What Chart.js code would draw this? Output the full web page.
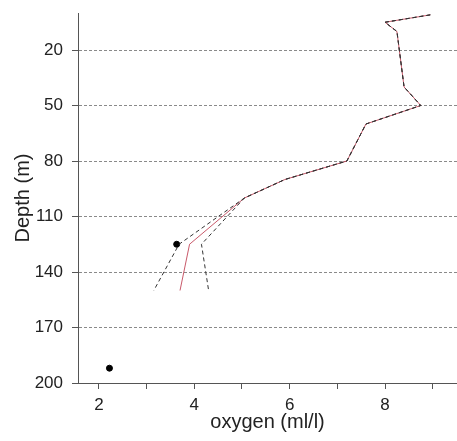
<!DOCTYPE html>
<html>
<head>
<meta charset="utf-8">
<script src="https://cdn.jsdelivr.net/npm/chart.js@4"></script>
<style>
  body { margin: 0; background: #fff; }
  #wrap { width: 457px; height: 441px; }
</style>
</head>
<body>
<div id="wrap"><canvas id="profile" width="457" height="441"></canvas></div>
<script>
// depth profile
var depths = [1, 5, 10, 40, 50, 60, 80, 90, 100, 125, 150];
var oxyMean = [8.95, 8.0, 8.25, 8.4, 8.75, 7.6, 7.2, 5.9, 5.05, 3.9, 3.7];
var oxyLow = [8.95, 8.0, 8.25, 8.4, 8.75, 7.6, 7.2, 5.9, 5.05, 3.68, 3.15];
var oxyHigh = [8.95, 8.0, 8.25, 8.4, 8.75, 7.6, 7.2, 5.9, 5.05, 4.15, 4.3];

// single observations (black dots)
var obsOxy = [3.63, 2.22];
var obsDepth = [125, 192];

var depthTicks = [20, 50, 80, 110, 140, 170, 200];
var oxyTicks = [2, 3, 4, 5, 6, 7, 8, 9];
var oxyLabels = [2, 4, 6, 8];

function pairs(xs, ys) {
  var out = [];
  for (var i = 0; i < xs.length; i++) out.push({ x: xs[i], y: ys[i] });
  return out;
}

var fontFam = "'Liberation Sans', Arial, sans-serif";

new Chart(document.getElementById('profile'), {
  type: 'scatter',
  data: {
    datasets: [
      {
        label: 'low',
        data: pairs(oxyLow, depths),
        showLine: true,
        borderColor: '#333',
        borderWidth: 1,
        borderDash: [4, 3],
        pointRadius: 0
      },
      {
        label: 'high',
        data: pairs(oxyHigh, depths),
        showLine: true,
        borderColor: '#333',
        borderWidth: 1,
        borderDash: [4, 3],
        pointRadius: 0
      },
      {
        label: 'mean',
        data: pairs(oxyMean, depths),
        showLine: true,
        borderColor: 'rgba(190, 60, 80, 0.85)',
        borderWidth: 1,
        pointRadius: 0
      },
      {
        label: 'obs',
        data: pairs(obsOxy, obsDepth),
        showLine: false,
        pointRadius: 3,
        pointBackgroundColor: '#000',
        pointBorderColor: '#000'
      }
    ]
  },
  options: {
    responsive: false,
    animation: false,
    layout: { autoPadding: false, padding: { top: 13, right: 0, left: 0, bottom: 0 } },
    plugins: { legend: { display: false }, tooltip: { enabled: false } },
    scales: {
      x: {
        type: 'linear',
        min: 1.56,
        max: 9.51,
        afterFit: function (s) {
          s.height = 58;
          s.paddingLeft = 0;
          s.paddingRight = 0;
        },
        afterBuildTicks: function (s) {
          s.ticks = oxyTicks.map(function (v) { return { value: v }; });
        },
        ticks: {
          color: '#222',
          font: { family: fontFam, size: 17 },
          padding: 6,
          maxRotation: 0,
          callback: function (v) { return oxyLabels.indexOf(v) >= 0 ? String(v) : ''; }
        },
        grid: { drawOnChartArea: false, drawTicks: true, tickLength: 6, color: '#555' },
        border: { color: '#555', width: 1 },
        title: {
          display: true,
          text: 'oxygen (ml/l)',
          color: '#222',
          font: { family: fontFam, size: 20 },
          padding: { top: 0, bottom: 7 }
        }
      },
      y: {
        type: 'linear',
        reverse: true,
        min: 0,
        max: 200,
        afterFit: function (s) {
          s.width = 78;
          s.paddingTop = 0;
          s.paddingBottom = 0;
        },
        afterBuildTicks: function (s) {
          s.ticks = depthTicks.map(function (v) { return { value: v }; });
        },
        ticks: {
          color: '#222',
          font: { family: fontFam, size: 17 },
          padding: 9
        },
        grid: {
          drawOnChartArea: true,
          tickLength: 6,
          color: '#8a8a8a',
          tickColor: '#555'
        },
        border: { color: '#555', width: 1, dash: [3, 2] },
        title: {
          display: true,
          text: 'Depth (m)',
          color: '#222',
          font: { family: fontFam, size: 20 },
          padding: { top: 11, bottom: 0 }
        }
      }
    }
  }
});
</script>
</body>
</html>
